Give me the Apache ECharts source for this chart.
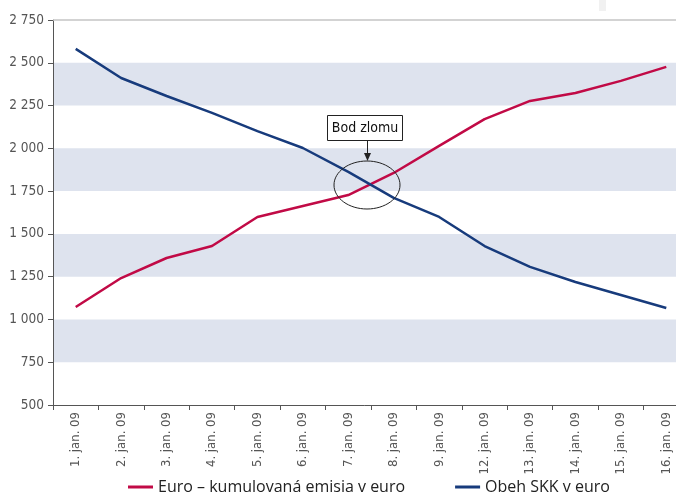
<!DOCTYPE html>
<html>
<head>
<meta charset="utf-8">
<script src="https://cdn.jsdelivr.net/npm/echarts@6/dist/echarts.min.js"></script>
<style>
  html, body { margin: 0; padding: 0; background: #fff; }
  #chart { width: 676px; height: 493px; }
</style>
</head>
<body>
<div id="chart"></div>
<script>
// Trading days in January 2009
var days = ['1. jan. 09', '2. jan. 09', '3. jan. 09', '4. jan. 09', '5. jan. 09', '6. jan. 09',
            '7. jan. 09', '8. jan. 09', '9. jan. 09', '12. jan. 09', '13. jan. 09', '14. jan. 09',
            '15. jan. 09', '16. jan. 09'];

// Cumulative euro issuance (mil. EUR)
var euroIssued = [1073, 1242, 1359, 1429, 1599, 1663, 1727, 1856, 2014, 2171, 2277, 2323, 2394, 2476];

// SKK in circulation, converted to euro (mil. EUR)
var skkCirculation = [2581, 2411, 2306, 2207, 2101, 2002, 1862, 1710, 1599, 1429, 1307, 1219, 1143, 1067];

var seriesNames = ['Euro – kumulovaná emisia v euro', 'Obeh SKK v euro'];

var yMin = 500, yMax = 2750, yStep = 250;

var FONT = '"Open Sans", "Noto Sans", sans-serif';
var NARROW = '"Liberation Sans Narrow", "DejaVu Sans Condensed", "Open Sans", sans-serif';

function spaced(v) {
  return String(v).replace(/\B(?=(\d{3})+(?!\d))/g, ' ');
}

var chart = echarts.init(document.getElementById('chart'), null, { renderer: 'canvas' });

chart.setOption({
  animation: false,
  backgroundColor: '#ffffff',
  // the plot runs slightly past the right edge of the page
  grid: { left: 53, top: 20, width: 636, bottom: 88, outerBoundsMode: 'none', containLabel: false },
  legend: {
    top: 474,
    left: 123,
    itemWidth: 25,
    itemHeight: 3,
    itemGap: 50,
    icon: 'rect',
    textStyle: { fontFamily: FONT, fontSize: 16, color: '#222' },
    data: seriesNames
  },
  xAxis: {
    type: 'category',
    data: days,
    boundaryGap: true,
    axisLine: { lineStyle: { color: '#555', width: 1 } },
    axisTick: { show: true, length: 5, lineStyle: { color: '#555' } },
    axisLabel: { rotate: 90, margin: 7, fontFamily: NARROW, fontSize: 13, color: '#555' }
  },
  yAxis: {
    type: 'value',
    min: yMin,
    max: yMax,
    interval: yStep,
    axisLine: { show: true, lineStyle: { color: '#555', width: 1 } },
    axisTick: { show: true, length: 5, lineStyle: { color: '#555' } },
    axisLabel: { margin: 9, fontFamily: NARROW, fontSize: 13.5, color: '#555', formatter: spaced },
    splitLine: { show: false },
    splitArea: { show: true, areaStyle: { color: ['rgba(255,255,255,0)', '#dee3ee'] } }
  },
  series: [
    {
      name: seriesNames[0],
      type: 'line',
      data: euroIssued,
      symbol: 'none',
      lineStyle: { color: '#c10a46', width: 2.5 },
      itemStyle: { color: '#c10a46' },
      z: 3,
      markLine: {
        silent: true,
        symbol: 'none',
        label: { show: false },
        lineStyle: { color: '#c4c4c4', width: 1.5, type: 'solid' },
        data: [{ yAxis: yMax }]
      }
    },
    {
      name: seriesNames[1],
      type: 'line',
      data: skkCirculation,
      symbol: 'none',
      lineStyle: { color: '#173b7c', width: 2.5 },
      itemStyle: { color: '#173b7c' },
      z: 4
    }
  ],
  graphic: [
    { type: 'rect', z: 100, shape: { x: 599, y: 0, width: 7, height: 11 }, style: { fill: '#f1f1f1' } },
    // "Bod zlomu" call-out marking the crossover
    { type: 'rect', z: 100, shape: { x: 327.5, y: 115.5, width: 75, height: 25 },
      style: { fill: '#fff', stroke: '#222', lineWidth: 1 } },
    { type: 'text', z: 101, style: { x: 365, y: 128, text: 'Bod zlomu', align: 'center', verticalAlign: 'middle',
      font: '14px ' + NARROW, fill: '#111' } },
    { type: 'line', z: 100, shape: { x1: 367.5, y1: 140, x2: 367.5, y2: 156 }, style: { stroke: '#222', lineWidth: 1 } },
    { type: 'polygon', z: 100, shape: { points: [[364, 153], [371, 153], [367.5, 161]] }, style: { fill: '#222' } },
    { type: 'ellipse', z: 100, shape: { cx: 367, cy: 185, rx: 33, ry: 24 },
      style: { fill: 'transparent', stroke: '#222', lineWidth: 1 } }
  ]
});
</script>
</body>
</html>
